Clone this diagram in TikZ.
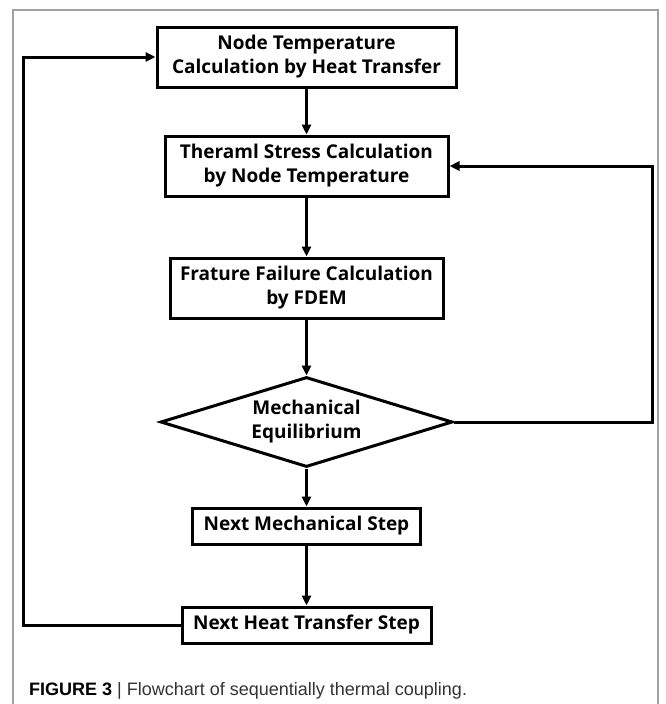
\documentclass[tikz,border=0pt]{standalone}
\usepackage{fontspec}
\setmainfont{Open Sans}
\newfontfamily\capfont{Liberation Sans}
\usetikzlibrary{shapes.geometric,arrows.meta}
\definecolor{framegray}{HTML}{A0A0A0}
\definecolor{captext}{HTML}{333333}
\begin{document}
\begin{tikzpicture}[x=1pt,y=-1pt,
  procbox/.style={draw=black,line width=3pt,rectangle,align=center,inner sep=0pt,
    font=\bfseries\fontsize{19}{24}\selectfont},
  decbox/.style={draw=black,line width=3pt,diamond,aspect=3.24,align=center,inner sep=0pt,
    font=\bfseries\fontsize{19}{24}\selectfont},
  flow/.style={line width=3pt,-{Triangle[length=10pt,width=9pt]}}]
\useasboundingbox (0,0) rectangle (665,704);
\draw[framegray,line width=1.2pt] (13,704) -- (13,10) -- (658,10) -- (658,704);
\node[procbox,minimum width=299pt,minimum height=60pt] (n1) at (306.5,57) {Node Temperature\\Calculation by Heat Transfer};
\node[procbox,minimum width=283pt,minimum height=60pt] (n2) at (306.5,166) {Theraml Stress Calculation\\by Node Temperature};
\node[procbox,minimum width=273pt,minimum height=60pt] (n3) at (306.5,288) {Frature Failure Calculation\\by FDEM};
\node[decbox,minimum width=292pt,minimum height=90pt] (d) at (306.5,422) {Mechanical\\Equilibrium};
\node[procbox,minimum width=228pt,minimum height=36pt] (n4) at (306.5,526) {Next Mechanical Step};
\node[procbox,minimum width=249pt,minimum height=36pt] (n5) at (306.5,625) {Next Heat Transfer Step};
\coordinate (r1) at (652,422);
\coordinate (r2) at (652,166);
\coordinate (l1) at (23,625);
\coordinate (l2) at (23,57);
\draw[flow] (n1) -- (n2);
\draw[flow] (n2) -- (n3);
\draw[flow] (n3) -- (d);
\draw[flow] (d) -- (n4);
\draw[flow] (n4) -- (n5);
\draw[flow,line join=miter] (d.east) -- (r1) -- (r2) -- (n2.east);
\draw[flow,line join=miter] (n5.west) -- (l1) -- (l2) -- (n1.west);
\node[anchor=base west,inner sep=0pt,font=\capfont\fontsize{18}{20}\selectfont] (cap) at (29,695)
  {\textbf{FIGURE 3} \textcolor{captext}{| Flowchart of sequentially thermal coupling.}};
\end{tikzpicture}
\end{document}
